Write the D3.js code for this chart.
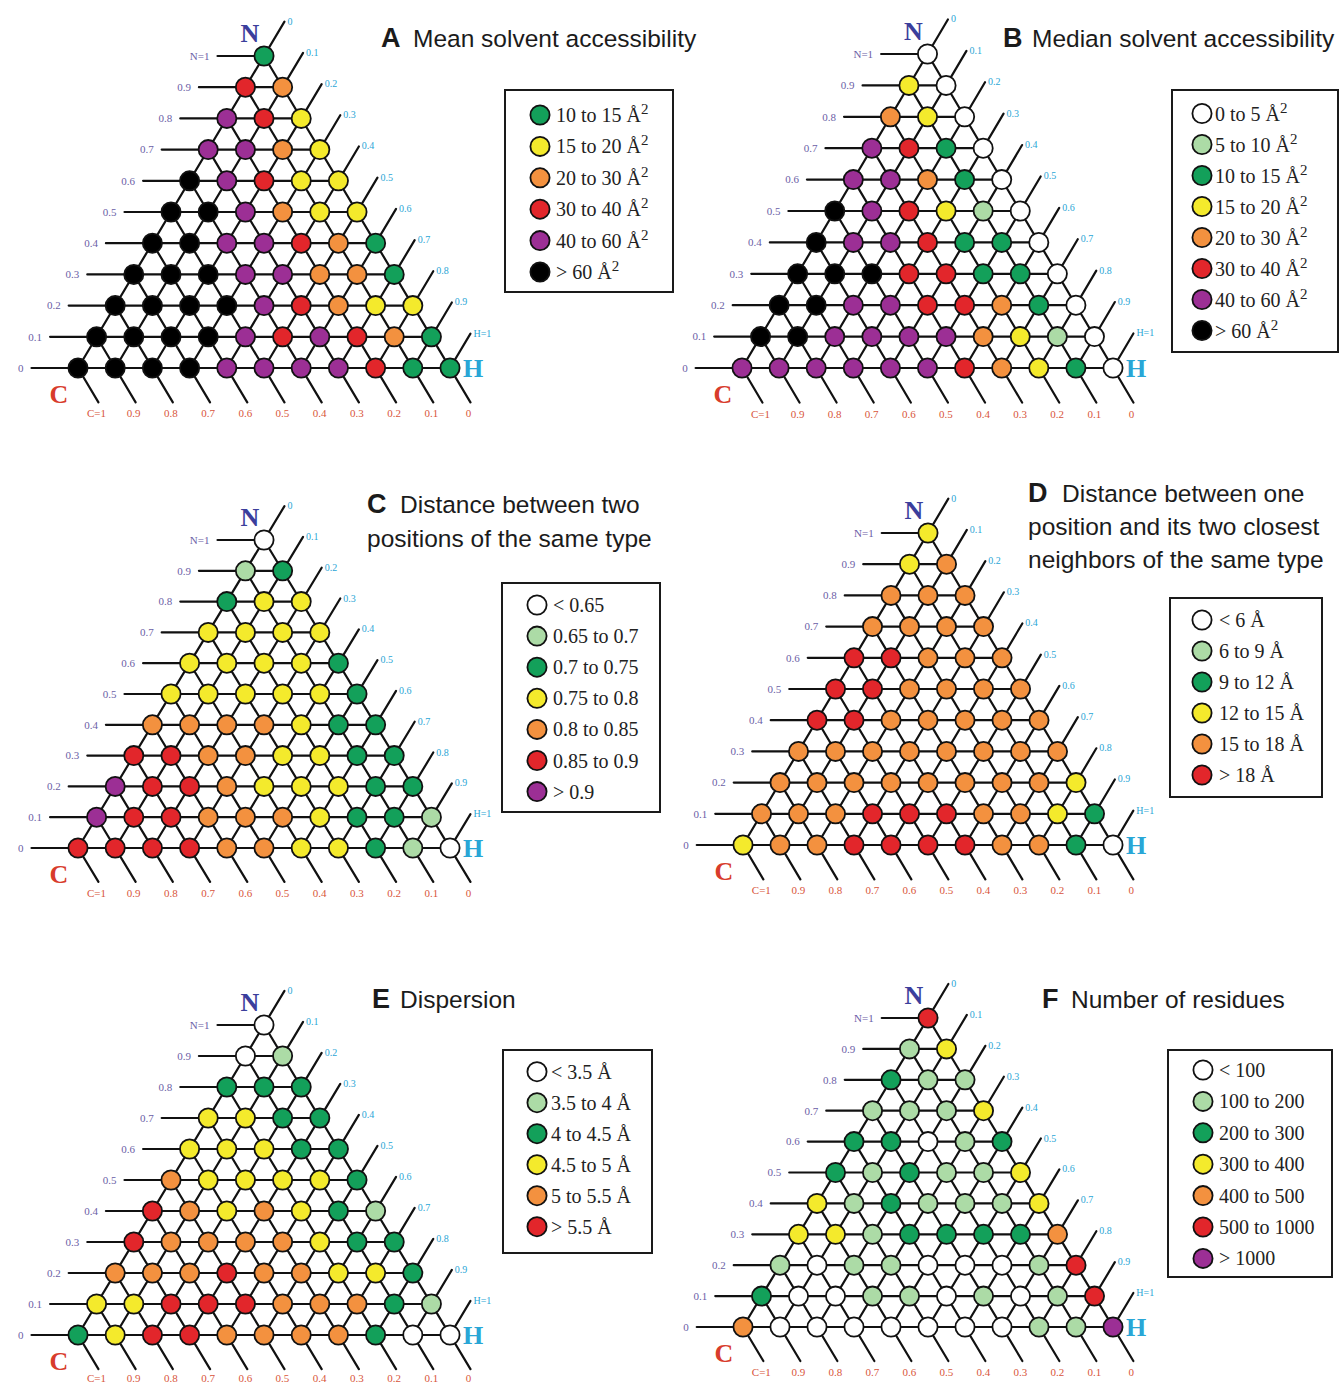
<!DOCTYPE html>
<html>
<head>
<meta charset="utf-8">
<title>Ternary composition maps</title>
<script src="https://cdn.jsdelivr.net/npm/d3@7"></script>
<style>
  html, body { margin: 0; padding: 0; background: #ffffff; }
  svg { display: block; }
</style>
</head>
<body>
<svg id="chart" width="1342" height="1385"></svg>
<script>
// ---- Axis tick labels (fractions of N, H and C) ----
const nTickLabels = ["N=1", "0.9", "0.8", "0.7", "0.6", "0.5", "0.4", "0.3", "0.2", "0.1", "0"]; // top to bottom
const hTickLabels = ["0", "0.1", "0.2", "0.3", "0.4", "0.5", "0.6", "0.7", "0.8", "0.9", "H=1"]; // H = 0 .. 1
const cTickLabels = ["C=1", "0.9", "0.8", "0.7", "0.6", "0.5", "0.4", "0.3", "0.2", "0.1", "0"]; // left to right

// ---- Colour classes ----
const binKeys = ["W", "L", "G", "Y", "O", "R", "P", "K"];
const binFills = ["#ffffff", "#acdba6", "#13a05a", "#f4ea2c", "#f3913f", "#e2262b", "#9c2f95", "#000000"];

// ---- Class of every composition, one string per row from N=1 down to N=0,
//      each row read from H=0 (left edge) to the right edge ----
const meanAccessibility = ["G", "RO", "PRY", "PPOY", "KPRYY", "KKPOYY", "KKPPROG",
  "KKKPPOOG", "KKKKPROYY", "KKKKPRPROG", "KKKKPPPPRGG"];
const medianAccessibility = ["W", "YW", "OYW", "PRGW", "PPOGW", "KPRYLW", "KPPRGGW",
  "KKKRRGGW", "KKPPRROGW", "KKPPPPOYLW", "PPPPPPROYGW"];
const sameTypeDistance = ["W", "LG", "GYY", "YYYY", "YYYYG", "YYYYYG", "OOOOYGG",
  "RROOYYGG", "PRROYYYGG", "PRROOOYGGL", "RRRROOYYGLW"];
const neighbourDistance = ["Y", "YO", "OOO", "OOOO", "RROOO", "RROOOO", "RROOOOO",
  "OOOOOOOO", "OOOOOOOOY", "OOORRROOYG", "YOORRRROOGW"];
const dispersion = ["W", "WL", "GGG", "YYGG", "YYYGG", "OYYYYG", "ROYOYGL",
  "ROOOOYGG", "OOOROOYYG", "YYRRROOOGL", "GYRROOOOGWW"];
const residueCount = ["R", "LY", "GLL", "LLLY", "GGWLG", "GLGLLY", "YLGLLLY",
  "YYLGGGGO", "LWLLWWWLR", "GWWLLWLWLR", "OWWWWWWWLLP"];

// ---- Legend entries: class key and label ----
const meanLegendKeys = ["G", "Y", "O", "R", "P", "K"];
const meanLegendLabels = ["10 to 15 Å²", "15 to 20 Å²", "20 to 30 Å²", "30 to 40 Å²", "40 to 60 Å²", "> 60 Å²"];
const medianLegendKeys = ["W", "L", "G", "Y", "O", "R", "P", "K"];
const medianLegendLabels = ["0 to 5 Å²", "5 to 10 Å²", "10 to 15 Å²", "15 to 20 Å²", "20 to 30 Å²", "30 to 40 Å²", "40 to 60 Å²", "> 60 Å²"];
const sameTypeLegendKeys = ["W", "L", "G", "Y", "O", "R", "P"];
const sameTypeLegendLabels = ["< 0.65", "0.65 to 0.7", "0.7 to 0.75", "0.75 to 0.8", "0.8 to 0.85", "0.85 to 0.9", "> 0.9"];
const neighbourLegendKeys = ["W", "L", "G", "Y", "O", "R"];
const neighbourLegendLabels = ["< 6 Å", "6 to 9 Å", "9 to 12 Å", "12 to 15 Å", "15 to 18 Å", "> 18 Å"];
const dispersionLegendKeys = ["W", "L", "G", "Y", "O", "R"];
const dispersionLegendLabels = ["< 3.5 Å", "3.5 to 4 Å", "4 to 4.5 Å", "4.5 to 5 Å", "5 to 5.5 Å", "> 5.5 Å"];
const residueLegendKeys = ["W", "L", "G", "Y", "O", "R", "P"];
const residueLegendLabels = ["< 100", "100 to 200", "200 to 300", "300 to 400", "400 to 500", "500 to 1000", "> 1000"];

// ---- Panel titles ----
const panelLetters = ["A", "B", "C", "D", "E", "F"];
const panelTitles = [
  ["Mean solvent accessibility"],
  ["Median solvent accessibility"],
  ["Distance between two", "positions of the same type"],
  ["Distance between one", "position and its two closest", "neighbors of the same type"],
  ["Dispersion"],
  ["Number of residues"]
];

// ---- Page layout of each panel ----
const layouts = [
  { x0: 78,  x1: 450,  y0: 368,  yTop: 56,
    title: { x: 381, y: 47, tx: 413, lead: 33 },
    legend: { x: 505, y: 90, w: 168, h: 202, cx: 540, cy: 115, step: 31.4, dx: 16 } },
  { x0: 742, x1: 1113, y0: 368,  yTop: 54,
    title: { x: 1003, y: 47, tx: 1032, lead: 33 },
    legend: { x: 1172, y: 90, w: 166, h: 262, cx: 1202, cy: 113.5, step: 31, dx: 13 } },
  { x0: 78,  x1: 450,  y0: 848,  yTop: 540,
    title: { x: 367, y: 513, tx: 400, lead: 34 },
    legend: { x: 502, y: 583, w: 158, h: 229, cx: 537, cy: 605, step: 31.1, dx: 16 } },
  { x0: 743, x1: 1113, y0: 845,  yTop: 533,
    title: { x: 1028, y: 502, tx: 1062, lead: 33 },
    legend: { x: 1170, y: 598, w: 152, h: 199, cx: 1202, cy: 620, step: 31, dx: 17 } },
  { x0: 78,  x1: 450,  y0: 1335, yTop: 1025,
    title: { x: 372, y: 1008, tx: 400, lead: 33 },
    legend: { x: 503, y: 1050, w: 149, h: 203, cx: 537, cy: 1071.7, step: 31, dx: 14 } },
  { x0: 743, x1: 1113, y0: 1327, yTop: 1018,
    title: { x: 1042, y: 1008, tx: 1071, lead: 33 },
    legend: { x: 1168, y: 1050, w: 164, h: 227, cx: 1203, cy: 1070, step: 31.4, dx: 16 } }
];

const grids = [meanAccessibility, medianAccessibility, sameTypeDistance, neighbourDistance, dispersion, residueCount];
const legendKeys = [meanLegendKeys, medianLegendKeys, sameTypeLegendKeys, neighbourLegendKeys, dispersionLegendKeys, residueLegendKeys];
const legendLabels = [meanLegendLabels, medianLegendLabels, sameTypeLegendLabels, neighbourLegendLabels, dispersionLegendLabels, residueLegendLabels];

// ---- Styling ----
const SERIF = "'Liberation Serif', 'Times New Roman', serif";
const SANS = "'Liberation Sans', Arial, Helvetica, sans-serif";
const N_COLOUR = "#6b5ea6", H_COLOUR = "#2aa6d6", C_COLOUR = "#d8553b";
const N_LETTER = "#3b3e9c", C_LETTER = "#d83c2c", H_LETTER = "#29a6d6";
const LINE_W = 2.2, DOT_R = 9.6, DOT_STROKE = 1.8;
const EXT_ROW = 0.125;   // left overhang of the N rows
const EXT_DIAG = 0.11;   // overhang of the H and C diagonals
const PAGE_BOTTOM = 1382; // lowest baseline for the C tick labels

const fillScale = d3.scaleOrdinal().domain(binKeys).range(binFills);
const steps = d3.range(11).map(k => k / 10);

const svg = d3.select("#chart");

panelLetters.forEach((letter, i) => {
  const L = layouts[i];
  const g = svg.append("g").attr("class", "panel panel-" + letter);

  // Ternary placement: horizontal position = H + N/2, vertical = N
  const x = d3.scaleLinear().domain([0, 1]).range([L.x0, L.x1]);
  const y = d3.scaleLinear().domain([0, 1]).range([L.y0, L.yTop]);
  const px = (n, h) => x(h + n / 2);
  const py = n => y(n);

  // Lattice lines: constant N (rows), constant H, constant C
  const segs = [];
  steps.forEach(n => segs.push([px(n, -EXT_ROW), py(n), px(n, 1 - n), py(n)]));
  steps.forEach(h => segs.push([px(0, h), py(0), px(1 - h + EXT_DIAG, h), py(1 - h + EXT_DIAG)]));
  steps.forEach(c => segs.push([px(1 - c, 0), py(1 - c), px(-EXT_DIAG, 1 - c + EXT_DIAG), py(-EXT_DIAG)]));

  g.append("g").attr("class", "lattice")
    .selectAll("line").data(segs).join("line")
    .attr("x1", d => d[0]).attr("y1", d => d[1])
    .attr("x2", d => d[2]).attr("y2", d => d[3])
    .attr("stroke", "#111").attr("stroke-width", LINE_W).attr("stroke-linecap", "round");

  // N tick labels at the left end of each row
  g.append("g").selectAll("text").data(steps).join("text")
    .attr("x", n => px(n, -EXT_ROW) - 8)
    .attr("y", n => py(n))
    .attr("dy", "0.35em")
    .attr("text-anchor", "end")
    .attr("font-family", SERIF).attr("font-size", 11)
    .attr("fill", N_COLOUR)
    .text(n => nTickLabels[Math.round((1 - n) * 10)]);

  // H tick labels at the upper-right end of each H line
  g.append("g").selectAll("text").data(steps).join("text")
    .attr("x", h => px(1 - h + EXT_DIAG, h) + 3)
    .attr("y", h => py(1 - h + EXT_DIAG) + 3)
    .attr("text-anchor", "start")
    .attr("font-family", SERIF).attr("font-size", 10)
    .attr("fill", H_COLOUR)
    .text(h => hTickLabels[Math.round(h * 10)]);

  // C tick labels below the lower end of each C line
  g.append("g").selectAll("text").data(steps).join("text")
    .attr("x", c => px(-EXT_DIAG, 1 - c + EXT_DIAG) - 2)
    .attr("y", c => Math.min(py(-EXT_DIAG) + 15, PAGE_BOTTOM))
    .attr("text-anchor", "middle")
    .attr("font-family", SERIF).attr("font-size", 11)
    .attr("fill", C_COLOUR)
    .text(c => cTickLabels[Math.round((1 - c) * 10)]);

  // Corner letters
  g.append("text").attr("x", px(1, 0) - 14).attr("y", py(1) - 14)
    .attr("text-anchor", "middle").attr("font-family", SERIF).attr("font-weight", "bold")
    .attr("font-size", 26).attr("fill", N_LETTER).text("N");
  g.append("text").attr("x", px(0, 0) - 19).attr("y", py(0) + 35)
    .attr("text-anchor", "middle").attr("font-family", SERIF).attr("font-weight", "bold")
    .attr("font-size", 26).attr("fill", C_LETTER).text("C");
  g.append("text").attr("x", px(0, 1) + 13).attr("y", py(0) + 9)
    .attr("text-anchor", "start").attr("font-family", SERIF).attr("font-weight", "bold")
    .attr("font-size", 26).attr("fill", H_LETTER).text("H");

  // Composition points
  const points = [];
  grids[i].forEach((row, r) => {
    const n = (10 - r) / 10;
    row.split("").forEach((key, j) => points.push({ n, h: j / 10, key }));
  });
  g.append("g").attr("class", "points")
    .selectAll("circle").data(points).join("circle")
    .attr("cx", d => px(d.n, d.h))
    .attr("cy", d => py(d.n))
    .attr("r", DOT_R)
    .attr("fill", d => fillScale(d.key))
    .attr("stroke", "#111").attr("stroke-width", DOT_STROKE);

  // Title
  const T = L.title;
  const title = g.append("g").attr("class", "title").attr("fill", "#1b1b1b");
  title.append("text").attr("x", T.x).attr("y", T.y)
    .attr("font-family", SANS).attr("font-weight", "bold").attr("font-size", 27)
    .text(letter);
  panelTitles[i].forEach((line, k) => {
    title.append("text")
      .attr("x", k === 0 ? T.tx : T.x)
      .attr("y", T.y + k * T.lead)
      .attr("font-family", SANS).attr("font-size", 24.5)
      .text(line);
  });

  // Legend
  const G = L.legend;
  const leg = g.append("g").attr("class", "legend");
  leg.append("rect").attr("x", G.x).attr("y", G.y).attr("width", G.w).attr("height", G.h)
    .attr("fill", "#ffffff").attr("stroke", "#1a1a1a").attr("stroke-width", 2);
  const items = legendKeys[i].map((key, k) => ({ key, label: legendLabels[i][k], k }));
  const rows = leg.selectAll("g.item").data(items).join("g").attr("class", "item")
    .attr("transform", d => `translate(${G.cx},${G.cy + d.k * G.step})`);
  rows.append("circle").attr("r", DOT_R)
    .attr("fill", d => fillScale(d.key))
    .attr("stroke", "#111").attr("stroke-width", DOT_STROKE);
  rows.each(function (d) {
    const t = d3.select(this).append("text")
      .attr("x", G.dx).attr("y", 7)
      .attr("font-family", SERIF).attr("font-size", 20).attr("fill", "#222");
    if (d.label.endsWith("²")) {
      t.append("tspan").text(d.label.slice(0, -1));
      t.append("tspan").attr("font-size", 15).attr("dy", -8).text("2");
    } else {
      t.text(d.label);
    }
  });
});
</script>
</body>
</html>
